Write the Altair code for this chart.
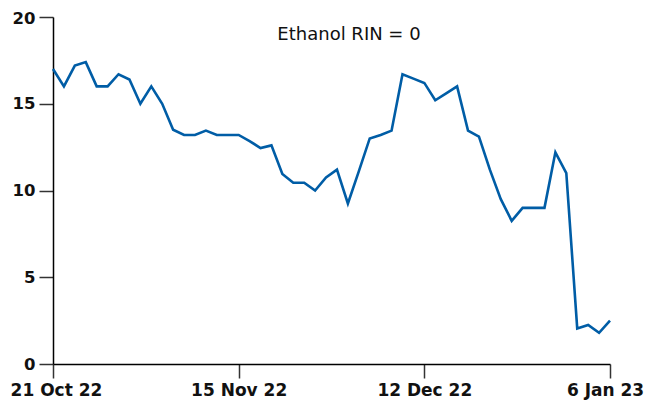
import altair as alt
import pandas as pd

# Series values (one per trading day, evenly spaced on the axis)
values = [17.0, 16.0, 17.2, 17.4, 16.0, 16.0, 16.7, 16.4, 15.0, 16.0,
          15.0, 13.5, 13.2, 13.2, 13.45, 13.2, 13.2, 13.2, 12.85, 12.45,
          12.6, 10.95, 10.45, 10.45, 10.0, 10.75, 11.2, 9.25, 11.1, 13.0,
          13.2, 13.45, 16.7, 16.45, 16.2, 15.2, 15.6, 16.0, 13.45, 13.1,
          11.2, 9.5, 8.25, 9.0, 9.0, 9.0, 12.2, 11.0, 2.05, 2.25,
          1.8, 2.5]
tick_positions = [0, 17, 34, 51]
tick_labels = ["21 Oct 22", "15 Nov 22", "12 Dec 22", "6 Jan 23"]
y_ticks = [0, 5, 10, 15, 20]
title_text = ["Ethanol RIN = 0"]

df = pd.DataFrame({"i": list(range(len(values))), "v": values})
label_expr = " : ".join(
    f"datum.value == {p} ? '{l}'" for p, l in zip(tick_positions, tick_labels)
) + " : ''"

FONT = "DejaVu Sans"

x_label_offset = {
    "condition": [
        {"test": f"datum.value == {tick_positions[0]}", "value": 3},
        {"test": f"datum.value == {tick_positions[-1]}", "value": -5},
    ],
    "value": 0,
}
y_label_offset = {
    "condition": {"test": f"datum.value == {y_ticks[-1]}", "value": 1.5},
    "value": 0,
}

line = alt.Chart(df).mark_line(color="#005DA6", strokeWidth=2.6).encode(
    x=alt.X("i:Q",
            scale=alt.Scale(domain=[0, len(values) - 1], nice=False, zero=False),
            axis=alt.Axis(values=tick_positions, labelExpr=label_expr, title=None,
                          grid=False, tickSize=14, labelFlush=False,
                          labelOverlap=False, labelBound=False, labelPadding=4,
                          labelFontSize=17, labelOffset=x_label_offset)),
    y=alt.Y("v:Q",
            scale=alt.Scale(domain=[0, 20], nice=False),
            axis=alt.Axis(values=y_ticks, title=None, grid=False, tickSize=14,
                          labelPadding=4, labelFontSize=16.5,
                          labelFlush=False, labelOffset=y_label_offset)),
)

title = alt.Chart(pd.DataFrame({"t": title_text})).mark_text(
    font=FONT, fontSize=18, color="#111111", align="center", baseline="alphabetic"
).encode(
    text="t:N",
    x=alt.value(296),
    y=alt.value(23),
)

chart = (line + title).properties(
    width=557,
    height=347,
    autosize=alt.AutoSizeParams(type="none"),
    padding={"left": 45, "top": 9, "right": 36, "bottom": 40},
).configure_view(strokeWidth=0).configure_axis(
    domainColor="#000000",
    domainWidth=1.5,
    tickColor="#333333",
    tickWidth=1.5,
    labelFont=FONT,
    labelFontSize=17,
    labelFontWeight="bold",
    labelColor="#111111",
)

chart.save("out.html", embed_options={"renderer": "svg", "actions": False})
